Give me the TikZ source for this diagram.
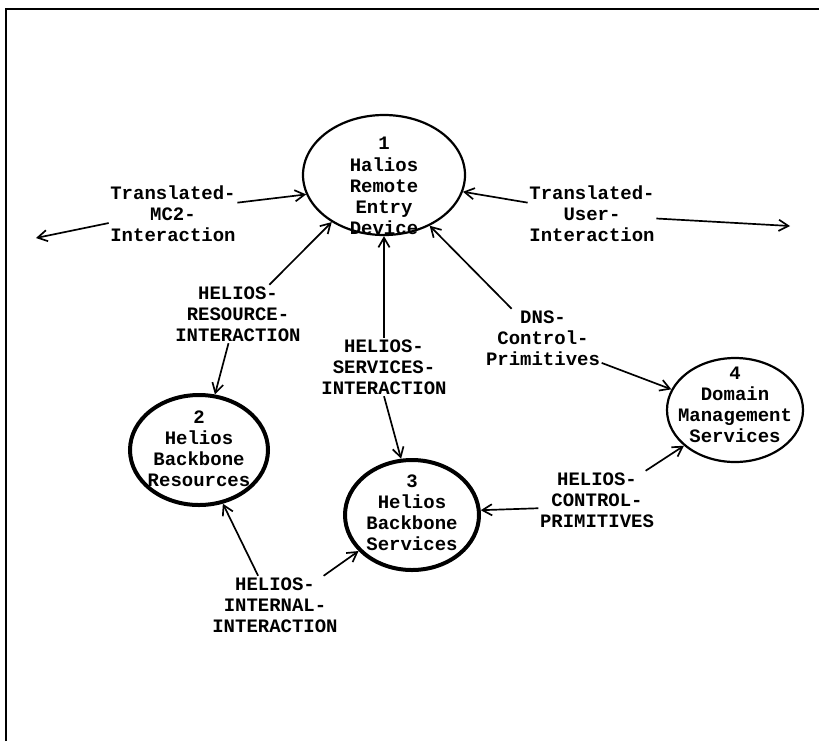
\documentclass[tikz,border=0pt]{standalone}
\usepackage{fontspec}
\setmonofont{Liberation Mono}
\usetikzlibrary{shapes, arrows.meta}

\begin{document}
\begin{tikzpicture}[x=0.25mm, y=-0.25mm,
  >={Straight Barb[length=2.4mm,width=2.8mm]},
  txt/.style={font=\ttfamily\bfseries\fontsize{13.5}{15}\selectfont, align=center, inner sep=1pt},
  proc/.style={draw, ellipse, line width=0.55mm},
  heavy/.style={proc, line width=1mm}]
\useasboundingbox (0,0) rectangle (819,741);
\draw[line width=0.7mm] (6,741) -- (6,9) -- (819,9);

% processes
\node[proc, minimum width=40.5mm, minimum height=30mm] (rem) at (384,175) {};
\node[txt] (remtxt) at (384,186) {1\\Halios\\Remote\\Entry\\Device};
\node[heavy, minimum width=34.5mm, minimum height=27.5mm] (bres) at (199,450) {};
\node[txt] (brestxt) at (199,449) {2\\Helios\\Backbone\\Resources};
\node[heavy, minimum width=33.5mm, minimum height=27.5mm] (bsvc) at (412,515) {};
\node[txt] (bsvctxt) at (412,513) {3\\Helios\\Backbone\\Services};
\node[proc, minimum width=34mm, minimum height=26mm] (dmgmt) at (735,410) {};
\node[txt] (dmgmttxt) at (735,405) {4\\Domain\\Management\\Services};

% flows
\node[txt] (mc2) at (173,214) {Translated-\\MC2-\\Interaction};
\node[txt] (usr) at (592,214) {Translated-\\User-\\Interaction};
\node[txt] (res) at (238,314) {HELIOS-\\RESOURCE-\\INTERACTION};
\node[txt] (svc) at (384,367) {HELIOS-\\SERVICES-\\INTERACTION};
\node[txt] (dns) at (543,338) {DNS-\\Control-\\Primitives};
\node[txt] (ctl) at (597,500) {HELIOS-\\CONTROL-\\PRIMITIVES};
\node[txt] (int) at (275,605) {HELIOS-\\INTERNAL-\\INTERACTION};
\coordinate (mc2out) at (36,238);
\coordinate (usrout) at (790,226);

\draw[->,very thick] (mc2.10) -- (rem.194);
\draw[->,very thick] (mc2.188) -- (mc2out);
\draw[->,very thick] (usr.170) -- (rem.348);
\draw[->,very thick] (usr.356) -- (usrout);

\draw[->,very thick] (res.43) -- (rem.222);
\draw[->,very thick] (res.252) -- (bres.74);
\draw[->,very thick] (svc.north) -- (rem.270);
\draw[->,very thick] (svc.south) -- (bsvc.101);
\draw[->,very thick] (dns.137) -- (rem.312);
\draw[->,very thick] (dns.337) -- (dmgmt.162);

\draw[->,very thick] (ctl.188) -- (bsvc.4);
\draw[->,very thick] (ctl.31) -- (dmgmt.215);
\draw[->,very thick] (int.120) -- (bres.294);
\draw[->,very thick] (int.31) -- (bsvc.214);
\end{tikzpicture}
\end{document}
